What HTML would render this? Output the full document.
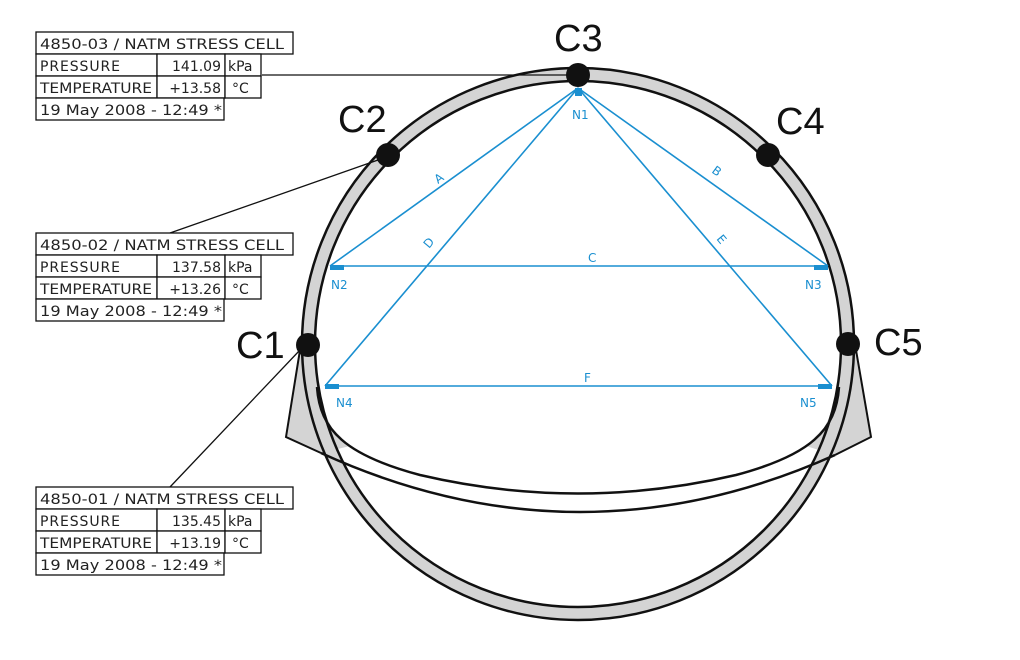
<!DOCTYPE html>
<html><head><meta charset="utf-8"><style>
html,body{margin:0;padding:0;background:#fff;}
svg{display:block;}
.t{font-family:"DejaVu Sans","Liberation Sans",sans-serif;font-size:14px;fill:#222;}
.c{font-family:"Liberation Sans",sans-serif;font-size:38px;fill:#111;}
.b{font-family:"DejaVu Sans","Liberation Sans",sans-serif;font-size:12px;fill:#1a8fd0;}
</style></head><body>
<svg width="1020" height="660" viewBox="0 0 1020 660" xmlns="http://www.w3.org/2000/svg">
<!-- ring fill -->
<path d="M302,344 a276,276 0 1,0 552,0 a276,276 0 1,0 -552,0 Z M315,344 a263,263 0 1,0 526,0 a263,263 0 1,0 -526,0 Z" fill="#d4d4d4" fill-rule="evenodd"/>
<!-- wedges -->
<polygon points="300,345 286,437 321,453 350,446 332,428 322,408 317,387 315,350" fill="#d4d4d4" stroke="none"/>
<polygon points="856,345 871,437 835,455 806,446 824,428 834,408 839,387 841,350" fill="#d4d4d4" stroke="none"/>
<polyline points="300,350 286,437 321,453" fill="none" stroke="#111" stroke-width="2"/>
<polyline points="856,350 871,437 835,455" fill="none" stroke="#111" stroke-width="2"/>
<circle cx="578" cy="344" r="276" fill="none" stroke="#111" stroke-width="2.5"/>
<circle cx="578" cy="344" r="263" fill="none" stroke="#111" stroke-width="2.5"/>
<!-- invert curves -->
<path d="M321,453 Q578,570 835,455" fill="none" stroke="#111" stroke-width="2.5"/>
<path d="M317,387 C320,430 345,455 420,475 Q578,512 736,475 C811,455 836,430 839,387" fill="none" stroke="#111" stroke-width="2.5"/>
<!-- blue lines -->
<g stroke="#1a8fd0" stroke-width="1.6" fill="none">
<line x1="578" y1="88" x2="330" y2="266"/>
<line x1="578" y1="88" x2="828" y2="266"/>
<line x1="578" y1="88" x2="325" y2="386"/>
<line x1="578" y1="88" x2="832" y2="386"/>
<line x1="330" y1="266" x2="828" y2="266"/>
<line x1="325" y1="386" x2="832" y2="386"/>
</g>
<g fill="#1a8fd0">
<rect x="575" y="88" width="7" height="8"/>
<rect x="330" y="265" width="14" height="5"/>
<rect x="814" y="265" width="14" height="5"/>
<rect x="325" y="384" width="14" height="5"/>
<rect x="818" y="384" width="14" height="5"/>
</g>
<text class="b" x="572" y="119">N1</text>
<text class="b" x="331" y="289">N2</text>
<text class="b" x="805" y="289">N3</text>
<text class="b" x="336" y="407">N4</text>
<text class="b" x="800" y="407">N5</text>
<text class="b" x="588" y="262">C</text>
<text class="b" x="584" y="382">F</text>
<text class="b" transform="translate(438,184) rotate(-36)">A</text>
<text class="b" transform="translate(711,172) rotate(36)">B</text>
<text class="b" transform="translate(429,249) rotate(-50)">D</text>
<text class="b" transform="translate(716,239) rotate(50)">E</text>
<!-- dots -->
<g fill="#111">
<circle cx="578" cy="75" r="12"/>
<circle cx="388" cy="155" r="12"/>
<circle cx="768" cy="155" r="12"/>
<circle cx="308" cy="345" r="12"/>
<circle cx="848" cy="344" r="12"/>
</g>
<text class="c" x="554" y="51">C3</text>
<text class="c" x="338" y="132">C2</text>
<text class="c" x="776" y="134">C4</text>
<text class="c" x="236" y="358">C1</text>
<text class="c" x="874" y="355">C5</text>
<!-- leaders -->
<g stroke="#111" stroke-width="1.3">
<line x1="262" y1="75" x2="570" y2="75"/>
<line x1="170" y1="233" x2="378" y2="160"/>
<line x1="170" y1="487" x2="300" y2="350"/>
</g>
<g fill="#fff" stroke="#111" stroke-width="1.3">
<rect x="36" y="32" width="257" height="22"/><rect x="36" y="54" width="121" height="22"/><rect x="157" y="54" width="68" height="22"/><rect x="225" y="54" width="36" height="22"/>
<rect x="36" y="76" width="121" height="22"/><rect x="157" y="76" width="68" height="22"/><rect x="225" y="76" width="36" height="22"/><rect x="36" y="98" width="188" height="22"/>
<rect x="36" y="233" width="257" height="22"/><rect x="36" y="255" width="121" height="22"/><rect x="157" y="255" width="68" height="22"/><rect x="225" y="255" width="36" height="22"/>
<rect x="36" y="277" width="121" height="22"/><rect x="157" y="277" width="68" height="22"/><rect x="225" y="277" width="36" height="22"/><rect x="36" y="299" width="188" height="22"/>
<rect x="36" y="487" width="257" height="22"/><rect x="36" y="509" width="121" height="22"/><rect x="157" y="509" width="68" height="22"/><rect x="225" y="509" width="36" height="22"/>
<rect x="36" y="531" width="121" height="22"/><rect x="157" y="531" width="68" height="22"/><rect x="225" y="531" width="36" height="22"/><rect x="36" y="553" width="188" height="22"/>
</g>
<g class="t">
<text x="40" y="49" textLength="244" lengthAdjust="spacingAndGlyphs">4850-03 / NATM STRESS CELL</text>
<text x="40" y="71" textLength="80">PRESSURE</text>
<text x="221" y="71" text-anchor="end">141.09</text>
<text x="228" y="71">kPa</text>
<text x="40" y="93" textLength="112" lengthAdjust="spacingAndGlyphs">TEMPERATURE</text>
<text x="221" y="93" text-anchor="end">+13.58</text>
<text x="232" y="93">°C</text>
<text x="40" y="115" textLength="182" lengthAdjust="spacingAndGlyphs">19 May 2008 - 12:49 *</text>

<text x="40" y="250" textLength="244" lengthAdjust="spacingAndGlyphs">4850-02 / NATM STRESS CELL</text>
<text x="40" y="272" textLength="80">PRESSURE</text>
<text x="221" y="272" text-anchor="end">137.58</text>
<text x="228" y="272">kPa</text>
<text x="40" y="294" textLength="112" lengthAdjust="spacingAndGlyphs">TEMPERATURE</text>
<text x="221" y="294" text-anchor="end">+13.26</text>
<text x="232" y="294">°C</text>
<text x="40" y="316" textLength="182" lengthAdjust="spacingAndGlyphs">19 May 2008 - 12:49 *</text>

<text x="40" y="504" textLength="244" lengthAdjust="spacingAndGlyphs">4850-01 / NATM STRESS CELL</text>
<text x="40" y="526" textLength="80">PRESSURE</text>
<text x="221" y="526" text-anchor="end">135.45</text>
<text x="228" y="526">kPa</text>
<text x="40" y="548" textLength="112" lengthAdjust="spacingAndGlyphs">TEMPERATURE</text>
<text x="221" y="548" text-anchor="end">+13.19</text>
<text x="232" y="548">°C</text>
<text x="40" y="570" textLength="182" lengthAdjust="spacingAndGlyphs">19 May 2008 - 12:49 *</text>
</g>
</svg>
</body></html>
